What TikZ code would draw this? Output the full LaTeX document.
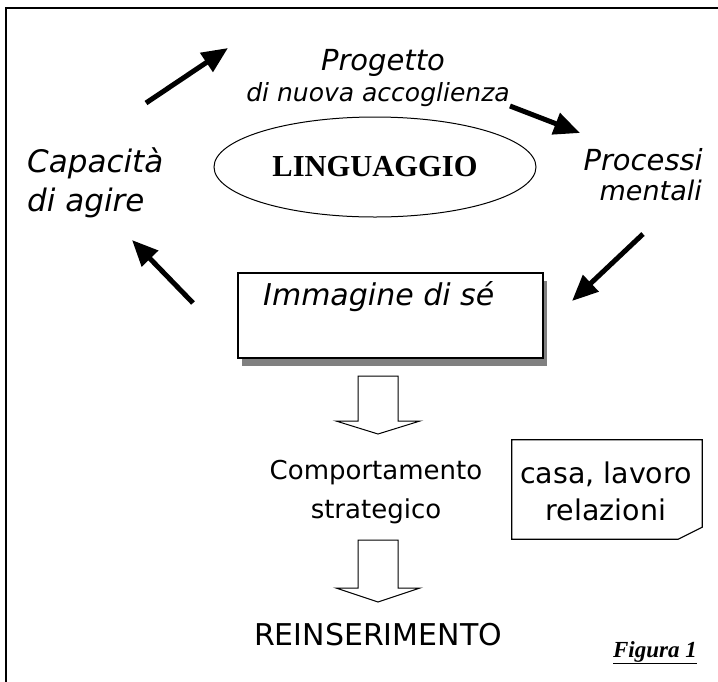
\documentclass[tikz,border=0pt]{standalone}
\usepackage{fontspec}
\setmainfont{DejaVu Sans}
\newfontfamily\timesfont{Liberation Serif}
\usetikzlibrary{arrows.meta,shapes.geometric,shadows}
\newcommand{\fsz}[1]{\fontsize{#1}{#1}\selectfont}
\begin{document}
\begin{tikzpicture}[x=1pt,y=-1pt,
  lbl/.style={inner sep=0pt, anchor=base, font=\fsz{29}\itshape},
  upr/.style={inner sep=0pt, anchor=base, font=\fsz{26}},
  bigarrow/.style={line width=5pt, -{Triangle[length=26pt,width=22pt]}},
  blockarrow/.style={draw=black, line width=1pt, fill=white, line join=miter}]
\useasboundingbox (0,0) rectangle (718,681);
\fill[white] (0,0) rectangle (718,681);
% frame
\draw[line width=2.2pt] (6,8) rectangle (760,720);
% top labels
\node[lbl] (prog1) at (383,70) {Progetto};
\node[lbl, font=\fsz{25}\itshape] (prog2) at (378,101) {di nuova accoglienza};
\node[lbl, anchor=base west, font=\fsz{31}\itshape] (cap1) at (27,172) {Capacità};
\node[lbl, anchor=base west, font=\fsz{31}\itshape] (cap2) at (27,211) {di agire};
\node[lbl, anchor=base east] (proc1) at (703,170) {Processi};
\node[lbl, anchor=base east, font=\fsz{27}\itshape] (proc2) at (702,200) {mentali};
% ellipse
\node[ellipse, draw, line width=1pt, minimum width=322pt, minimum height=100pt,
      font=\timesfont\bfseries\fsz{30.5}] (ling) at (375,167) {LINGUAGGIO};
% Immagine box
\node[draw, line width=1.2pt, fill=white, minimum width=305pt, minimum height=85pt,
      drop shadow={shadow xshift=4pt, shadow yshift=-8pt, fill=black!50, opacity=1}] (imm) at (390.5,315.5) {};
\node[lbl, anchor=base west, font=\fsz{30}\itshape] (immt) at (263,305) {Immagine di sé};
% circular arrows
\coordinate (a1s) at (146,103); \coordinate (a1e) at (228,48);
\coordinate (a2s) at (510,106);  \coordinate (a2e) at (580,133);
\coordinate (a3s) at (643,234); \coordinate (a3e) at (572,301);
\coordinate (a4s) at (193,303); \coordinate (a4e) at (132,240);
\draw[bigarrow] (a1s) -- (a1e);
\draw[bigarrow] (a2s) -- (a2e);
\draw[bigarrow] (a3s) -- (a3e);
\draw[bigarrow] (a4s) -- (a4e);
% block arrows
\draw[blockarrow] (358,376) -- (358,421) -- (336,421) -- (378,434) -- (420,421) -- (398,421) -- (398,376) -- cycle;
\draw[blockarrow] (358,540) -- (358,588) -- (336,588) -- (378,602) -- (420,588) -- (398,588) -- (398,540) -- cycle;
% comportamento
\node[upr, font=\fsz{26}] (comp1) at (376,479) {Comportamento};
\node[upr, font=\fsz{26}] (comp2) at (376,518) {strategico};
\node[upr, font=\fsz{30}] (rein) at (378,645) {REINSERIMENTO};
% casa box
\node[minimum width=190pt, minimum height=99pt, inner sep=0pt] (casa) at (607,489.5) {};
\draw[line width=1.2pt] (casa.north west) -- (casa.north east) -- ([yshift=12pt]casa.south east)
   -- ([xshift=-24pt]casa.south east) -- (casa.south west) -- cycle;
\node[upr, font=\fsz{28.5}] (casa1) at (606,483) {casa, lavoro};
\node[upr, font=\fsz{28.5}] (casa2) at (606,520) {relazioni};
% figura
\node[inner sep=0pt, anchor=base, font=\timesfont\bfseries\itshape\fsz{23}] (fig) at (655,657) {\underline{Figura 1}};
\end{tikzpicture}
\end{document}
